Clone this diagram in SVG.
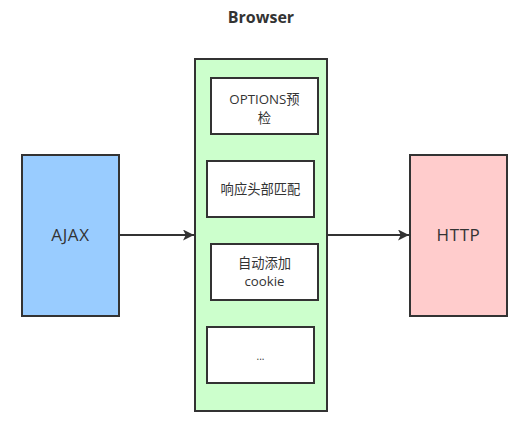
<svg xmlns="http://www.w3.org/2000/svg" width="530" height="426" viewBox="0 0 530 426">
<defs>
<style>
.box{stroke:#333;stroke-width:2}
.t{font-family:"Open Sans","Noto Sans CJK SC",sans-serif;fill:#333;text-anchor:middle}
.s{font-size:13.3px}
.l{font-size:17px;letter-spacing:0.6px}
.e{stroke:#333;stroke-width:2;fill:none}
</style>
<marker id="arr" viewBox="0 0 10 10" refX="10" refY="5" markerWidth="16" markerHeight="11" markerUnits="userSpaceOnUse" orient="auto">
<path d="M0,0 L10,5 L0,10 L2.5,5 Z" fill="#333"/>
</marker>
</defs>
<rect width="530" height="426" fill="#fff"/>
<text class="t" x="261" y="23" font-size="16" font-weight="bold">Browser</text>
<g id="browser">
<rect class="box" x="195" y="59" width="132" height="352" fill="#ccffcc"/>
</g>
<g id="options">
<rect class="box" x="211" y="78" width="107" height="56" fill="#fff"/>
<text class="t s" x="264.5" y="104">OPTIONS预</text>
<text class="t s" x="264.5" y="123">检</text>
</g>
<g id="header">
<rect class="box" x="207" y="161" width="107" height="56" fill="#fff"/>
<text class="t s" x="260.5" y="194">响应头部匹配</text>
</g>
<g id="cookie">
<rect class="box" x="211" y="244" width="107" height="56" fill="#fff"/>
<text class="t s" x="264.5" y="268">自动添加</text>
<text class="t s" x="264.5" y="286">cookie</text>
</g>
<g id="more">
<rect class="box" x="207" y="327" width="107" height="56" fill="#fff"/>
<text class="t" x="260.5" y="360" font-size="10">...</text>
</g>
<g id="ajax">
<rect class="box" x="22" y="155" width="97" height="161" fill="#99ccff"/>
<text class="t l" x="70.5" y="241">AJAX</text>
</g>
<g id="http">
<rect class="box" x="410" y="155" width="97" height="161" fill="#ffcccc"/>
<text class="t l" x="458.5" y="241">HTTP</text>
</g>
<g id="connectors">
<line class="e" x1="119" y1="235" x2="194" y2="235" marker-end="url(#arr)"/>
<line class="e" x1="327" y1="235" x2="409" y2="235" marker-end="url(#arr)"/>
</g>
</svg>
